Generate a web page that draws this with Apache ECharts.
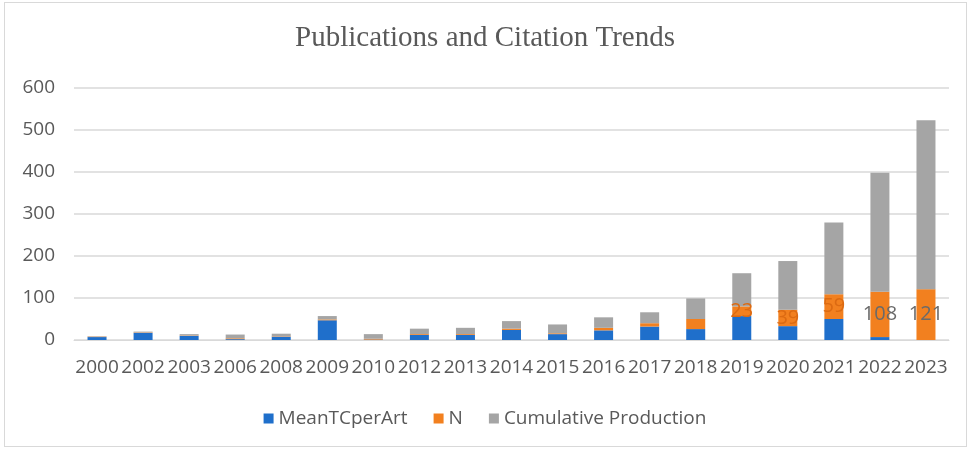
<!DOCTYPE html>
<html>
<head>
<meta charset="utf-8">
<script src="https://cdn.jsdelivr.net/npm/echarts@6/dist/echarts.min.js"></script>
<style>
  html, body { margin: 0; padding: 0; background: #fff; }
  #wrap { position: absolute; left: 4px; top: 2px; width: 963px; height: 445px; border: 1px solid #d9d9d9; box-sizing: border-box; }
  #chart { position: absolute; left: 0; top: 0; width: 970px; height: 451px; }
</style>
</head>
<body>
<div id="wrap"></div>
<div id="chart"></div>
<script>
// 年份与三组数值(自图中读取)
const years = ['2000', '2002', '2003', '2006', '2008', '2009', '2010', '2012', '2013', '2014',
  '2015', '2016', '2017', '2018', '2019', '2020', '2021', '2022', '2023']
const meanTCperArt = [7, 17, 10, 2, 8, 47, 1, 12, 12, 24, 14, 23, 32, 26, 57, 33, 50, 7, 0]
const nPubs = [1, 1, 1, 2, 1, 2, 2, 2, 2, 3, 2, 6, 8, 24, 23, 39, 59, 108, 121]
const cumulative = [1, 2, 3, 9, 6, 8, 11, 13, 15, 18, 21, 25, 26, 49, 79, 116, 171, 283, 402]
// 只有这几年显示 N 的数值标签
const labelYears = ['2019', '2020', '2021', '2022', '2023']
const labelGray = ['2022', '2023']
const yTicks = { min: 0, max: 600, interval: 100 }

const C = {
  blue: '#1F6FCB',
  orange: '#F2801F',
  gray: '#A5A5A5',
  text: '#595959',
  line: '#D9D9D9'
}
const font = 'Open Sans'

const chart = echarts.init(document.getElementById('chart'))

const nData = nPubs.map((v, i) => {
  const y = years[i]
  if (!labelYears.includes(y)) return v
  return {
    value: v,
    label: {
      show: true,
      position: 'inside',
      color: labelGray.includes(y) ? '#6A6A6A' : '#DC6A12',
      fontSize: 20,
      fontFamily: font
    }
  }
})

const common = { type: 'bar', stack: 'all', barWidth: 19, emphasis: { disabled: true } }

chart.setOption({
  animation: false,
  title: {
    text: 'Publications and Citation Trends',
    left: 'center',
    top: 19,
    textStyle: { fontFamily: 'Liberation Serif', fontWeight: 'normal', fontSize: 29, color: C.text }
  },
  legend: {
    bottom: 18,
    left: 'center',
    icon: 'rect',
    itemWidth: 10,
    itemHeight: 10,
    itemGap: 26,
    textStyle: { fontFamily: font, fontSize: 19, color: C.text },
    data: ['MeanTCperArt', 'N', 'Cumulative Production']
  },
  grid: { left: 74, right: 21, top: 88, bottom: 111, containLabel: false },
  xAxis: {
    type: 'category',
    data: years,
    axisLine: { lineStyle: { color: C.line } },
    axisTick: { show: false },
    axisLabel: { interval: 0, color: C.text, fontFamily: font, fontSize: 19, margin: 18 }
  },
  yAxis: {
    type: 'value',
    min: yTicks.min,
    max: yTicks.max,
    interval: yTicks.interval,
    axisLine: { show: false },
    axisTick: { show: false },
    splitLine: { lineStyle: { color: C.line, width: 1.5 } },
    axisLabel: { color: C.text, fontFamily: font, fontSize: 19, margin: 19 }
  },
  series: [
    { ...common, name: 'MeanTCperArt', itemStyle: { color: C.blue }, data: meanTCperArt },
    { ...common, name: 'N', itemStyle: { color: C.orange }, data: nData },
    { ...common, name: 'Cumulative Production', itemStyle: { color: C.gray }, data: cumulative }
  ]
})
</script>
</body>
</html>
